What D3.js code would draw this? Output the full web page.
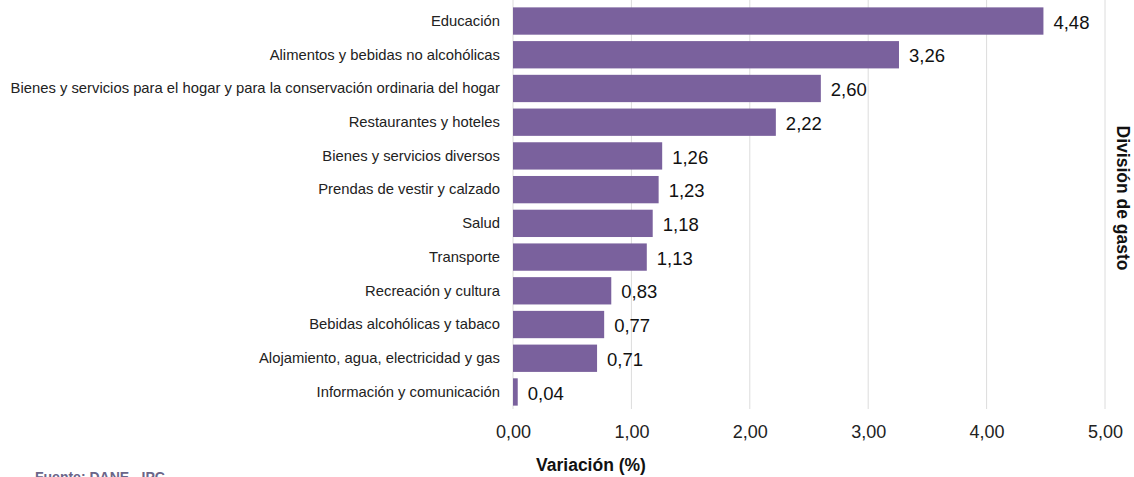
<!DOCTYPE html>
<meta charset="utf-8">
<head>
    <style>
        body { margin: 0; background: #fff; }
        text { font-family: "Liberation Sans", Arial, sans-serif; }
    </style>
    <script src="https://d3js.org/d3.v7.min.js"></script>
</head>
<body>
    <div id="chart"></div>
    <script>
        // data
        var categories = [
            "Educación",
            "Alimentos y bebidas no alcohólicas",
            "Bienes y servicios para el hogar y para la conservación ordinaria del hogar",
            "Restaurantes y hoteles",
            "Bienes y servicios diversos",
            "Prendas de vestir y calzado",
            "Salud",
            "Transporte",
            "Recreación y cultura",
            "Bebidas alcohólicas y tabaco",
            "Alojamiento, agua, electricidad y gas",
            "Información y comunicación"
        ];
        var values = [4.48, 3.26, 2.60, 2.22, 1.26, 1.23, 1.18, 1.13, 0.83, 0.77, 0.71, 0.04];
        var xTicks = [0, 1, 2, 3, 4, 5];

        var width = 1134, height = 477;
        var margin = { top: 4, right: 29, bottom: 68, left: 513 };

        var svg = d3.select("#chart").append("svg")
            .attr("width", width)
            .attr("height", height);

        var x = d3.scaleLinear()
            .domain([0, 5])
            .range([margin.left, width - margin.right]);

        var y = d3.scaleBand()
            .domain(categories)
            .range([margin.top, height - margin.bottom])
            .paddingInner(0.19)
            .paddingOuter(0.1);

        var fmt = function (v) { return d3.format(".2f")(v).replace(".", ","); };

        // gridlines
        svg.append("g")
            .selectAll("line")
            .data(xTicks)
            .enter()
            .append("line")
            .attr("x1", d => x(d))
            .attr("x2", d => x(d))
            .attr("y1", 0)
            .attr("y2", 409)
            .style("stroke", "#dcdcdc")
            .style("stroke-width", 1);

        // bars
        svg.append("g")
            .selectAll("rect")
            .data(values)
            .enter()
            .append("rect")
            .attr("x", x(0))
            .attr("y", (d, i) => y(categories[i]))
            .attr("width", d => x(d) - x(0))
            .attr("height", y.bandwidth())
            .attr("fill", "#7a619d");

        // value labels
        svg.append("g")
            .selectAll("text")
            .data(values)
            .enter()
            .append("text")
            .attr("x", d => x(d) + 10)
            .attr("y", (d, i) => y(categories[i]) + y.bandwidth() / 2 + 1)
            .attr("dy", "0.36em")
            .style("font-size", "18.5px")
            .style("fill", "#111")
            .text(d => fmt(d));

        // category axis
        var yAxis = svg.append("g")
            .attr("transform", "translate(" + (margin.left - 13) + ",0)")
            .call(d3.axisLeft(y).tickSize(0).tickPadding(0));
        yAxis.select(".domain").remove();
        yAxis.selectAll("text")
            .style("font-size", "14.8px")
            .style("font-family", "'Liberation Sans', Arial, sans-serif")
            .style("fill", "#222");

        // value axis
        var xAxis = svg.append("g")
            .attr("transform", "translate(0,432)")
            .call(d3.axisBottom(x).tickValues(xTicks).tickFormat(fmt).tickSize(0).tickPadding(0));
        xAxis.select(".domain").remove();
        xAxis.selectAll("text")
            .attr("dy", "0.36em")
            .style("font-size", "18px")
            .style("font-family", "'Liberation Sans', Arial, sans-serif")
            .style("fill", "#222");

        // axis titles
        svg.append("text")
            .attr("x", 591)
            .attr("y", 471)
            .attr("text-anchor", "middle")
            .style("font-size", "17.5px")
            .style("font-weight", "bold")
            .style("fill", "#111")
            .text("Variación (%)");

        svg.append("text")
            .attr("transform", "translate(1117,198) rotate(90)")
            .attr("text-anchor", "middle")
            .style("font-size", "17.5px")
            .style("font-weight", "bold")
            .style("fill", "#111")
            .text("División de gasto");

        // source
        svg.append("text")
            .attr("x", 35)
            .attr("y", 482)
            .style("font-size", "14px")
            .style("font-weight", "bold")
            .style("fill", "#6b6689")
            .text("Fuente: DANE - IPC");
    </script>
</body>
